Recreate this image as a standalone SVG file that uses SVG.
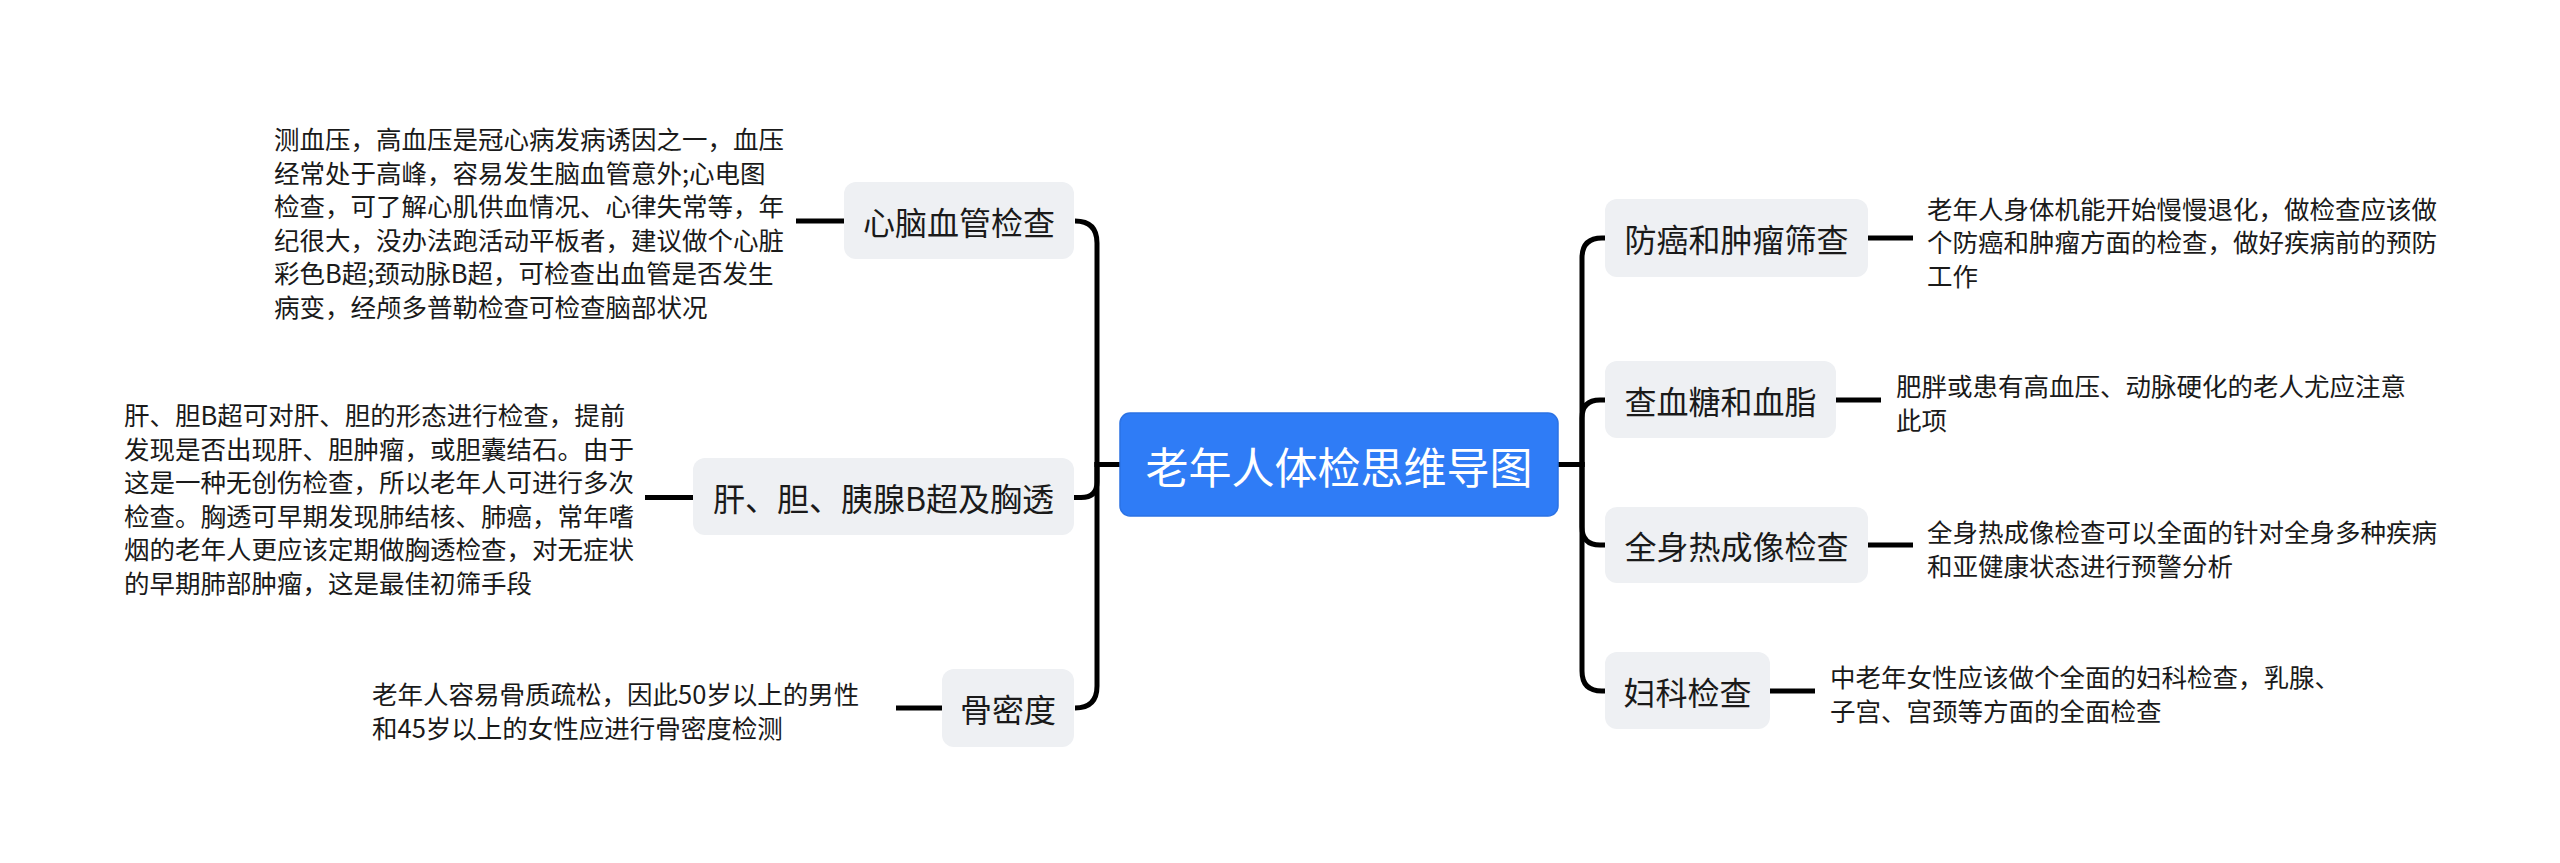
<svg xmlns="http://www.w3.org/2000/svg" width="2560" height="863" viewBox="0 0 2560 863">
<style>
text{font-family:"Noto Sans CJK SC","Noto Sans",sans-serif;dominant-baseline:central;fill:#1a1a1a}
.node rect{fill:#eef0f3}
.node text{font-size:32px;text-anchor:middle}
.desc{font-size:25.5px}
.root rect{fill:#2f7cf6;stroke:#2b72e4;stroke-width:1.5}
.root text{fill:#ffffff;font-size:43px;text-anchor:middle}
.conn path{fill:none;stroke:#000;stroke-width:5}
</style>
<rect width="2560" height="863" fill="#ffffff"/>
<g id="connectors" class="conn">
<path d="M1120 464.5 H1097 V243 Q1097 221 1075 221"/>
<path d="M1120 464.5 H1097 V482 Q1097 497.5 1081 497.5 H1074"/>
<path d="M1120 464.5 H1097 V686 Q1097 708 1075 708"/>
<path d="M1558 464.5 H1582 V258 Q1582 238 1602 238 H1605"/>
<path d="M1558 464.5 H1582 V418 Q1582 400 1600 400 H1605"/>
<path d="M1558 464.5 H1582 V527 Q1582 545 1600 545 H1605"/>
<path d="M1558 464.5 H1582 V671 Q1582 691 1602 691 H1605"/>
<path d="M796 221 H844"/>
<path d="M645 497.5 H693"/>
<path d="M896 708 H942"/>
<path d="M1868 238 H1913"/>
<path d="M1836 400 H1881"/>
<path d="M1868 545 H1913"/>
<path d="M1770 691 H1815"/>
</g>
<g id="root" class="root">
<rect x="1120" y="413" width="438" height="103" rx="10"/>
<text x="1339" y="464.5">老年人体检思维导图</text>
</g>
<g id="n-xinnao" class="node">
<rect x="844" y="182" width="230" height="77" rx="12"/>
<text x="959" y="220.5">心脑血管检查</text>
</g>
<g id="d-xinnao">
<text class="desc" x="274"><tspan x="274" y="137.25">测血压，高血压是冠心病发病诱因之一，血压</tspan><tspan x="274" y="170.75">经常处于高峰，容易发生脑血管意外;心电图</tspan><tspan x="274" y="204.25">检查，可了解心肌供血情况、心律失常等，年</tspan><tspan x="274" y="237.75">纪很大，没办法跑活动平板者，建议做个心脏</tspan><tspan x="274" y="271.25">彩色B超;颈动脉B超，可检查出血管是否发生</tspan><tspan x="274" y="304.75">病变，经颅多普勒检查可检查脑部状况</tspan></text>
</g>
<g id="n-gandan" class="node">
<rect x="693" y="458" width="381" height="77" rx="12"/>
<text x="883.5" y="496.5">肝、胆、胰腺B超及胸透</text>
</g>
<g id="d-gandan">
<text class="desc" x="124"><tspan x="124" y="413.25">肝、胆B超可对肝、胆的形态进行检查，提前</tspan><tspan x="124" y="446.75">发现是否出现肝、胆肿瘤，或胆囊结石。由于</tspan><tspan x="124" y="480.25">这是一种无创伤检查，所以老年人可进行多次</tspan><tspan x="124" y="513.75">检查。胸透可早期发现肺结核、肺癌，常年嗜</tspan><tspan x="124" y="547.25">烟的老年人更应该定期做胸透检查，对无症状</tspan><tspan x="124" y="580.75">的早期肺部肿瘤，这是最佳初筛手段</tspan></text>
</g>
<g id="n-gumidu" class="node">
<rect x="942" y="669" width="132" height="78" rx="12"/>
<text x="1008" y="708">骨密度</text>
</g>
<g id="d-gumidu">
<text class="desc" x="372"><tspan x="372" y="692.25">老年人容易骨质疏松，因此50岁以上的男性</tspan><tspan x="372" y="725.75">和45岁以上的女性应进行骨密度检测</tspan></text>
</g>
<g id="n-fangai" class="node">
<rect x="1605" y="199" width="263" height="78" rx="12"/>
<text x="1736.5" y="238">防癌和肿瘤筛查</text>
</g>
<g id="d-fangai">
<text class="desc" x="1927"><tspan x="1927" y="206.5">老年人身体机能开始慢慢退化，做检查应该做</tspan><tspan x="1927" y="240">个防癌和肿瘤方面的检查，做好疾病前的预防</tspan><tspan x="1927" y="273.5">工作</tspan></text>
</g>
<g id="n-xuetang" class="node">
<rect x="1605" y="361" width="231" height="77" rx="12"/>
<text x="1720.5" y="399.5">查血糖和血脂</text>
</g>
<g id="d-xuetang">
<text class="desc" x="1896"><tspan x="1896" y="384.25">肥胖或患有高血压、动脉硬化的老人尤应注意</tspan><tspan x="1896" y="417.75">此项</tspan></text>
</g>
<g id="n-rechengxiang" class="node">
<rect x="1605" y="507" width="263" height="76" rx="12"/>
<text x="1736.5" y="545">全身热成像检查</text>
</g>
<g id="d-rechengxiang">
<text class="desc" x="1927"><tspan x="1927" y="530.25">全身热成像检查可以全面的针对全身多种疾病</tspan><tspan x="1927" y="563.75">和亚健康状态进行预警分析</tspan></text>
</g>
<g id="n-fuke" class="node">
<rect x="1605" y="652" width="165" height="77" rx="12"/>
<text x="1687.5" y="690.5">妇科检查</text>
</g>
<g id="d-fuke">
<text class="desc" x="1830"><tspan x="1830" y="675.25">中老年女性应该做个全面的妇科检查，乳腺、</tspan><tspan x="1830" y="708.75">子宫、宫颈等方面的全面检查</tspan></text>
</g>
</svg>
